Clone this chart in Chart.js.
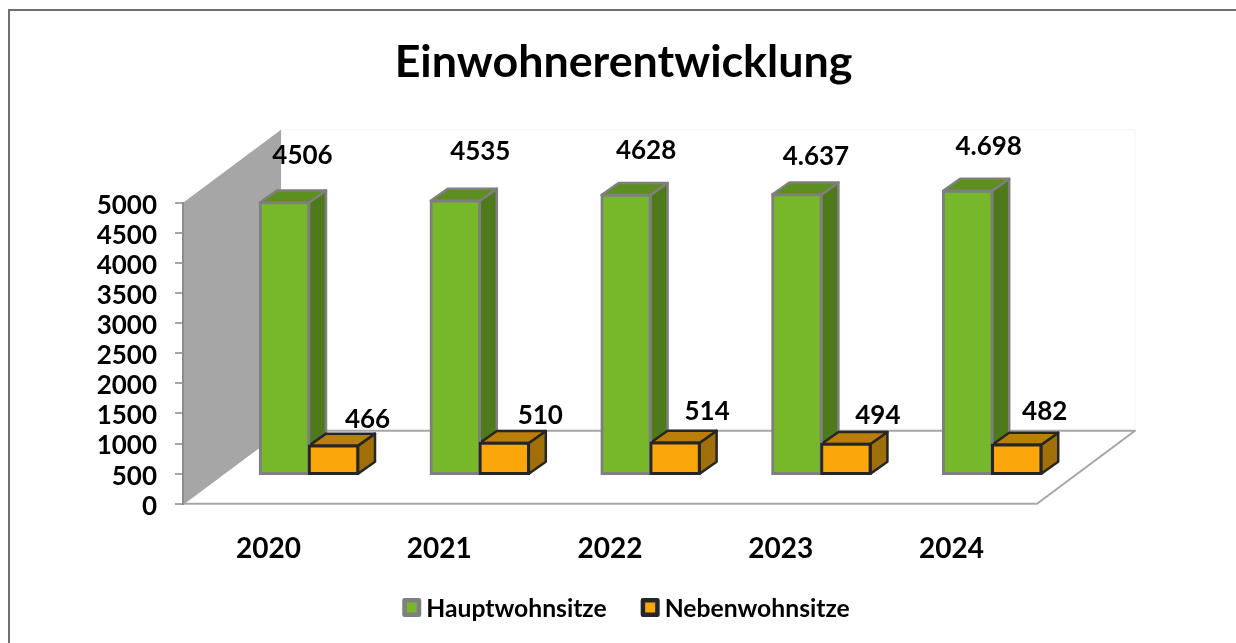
<!DOCTYPE html>
<html lang="de">
<head>
<meta charset="utf-8">
<title>Einwohnerentwicklung</title>
<script src="https://cdn.jsdelivr.net/npm/chart.js@4"></script>
<style>
    html, body { margin: 0; padding: 0; background: #fff; }
    canvas { display: block; }
</style>
</head>
<body>
<canvas id="chart" width="1236" height="643"></canvas>
<script>
    const years = ['2020', '2021', '2022', '2023', '2024'];
    const hauptwohnsitze = [4506, 4535, 4628, 4637, 4698];
    const nebenwohnsitze = [466, 510, 514, 494, 482];
    const hauptLabels = ['4506', '4535', '4628', '4.637', '4.698'];
    const nebenLabels = ['466', '510', '514', '494', '482'];
    const yTicksMax = 5000;

    const FONT = 'Lato, Carlito, Calibri, sans-serif';

    // Offset of the bars on the floor and size of the 3D look
    const BAR_SHIFT = 40.6;
    const BAR_DEPTH = { x: 17, y: 12 };
    const WALL_DEPTH = { x: 98, y: 73 };
    const LEGEND_SHIFT = 2.5;

    // Colours of the front, side and top faces, per dataset
    const faces = [
        { front: '#76b82a', side: '#4e7a1c', top: '#5c8f20', line: '#7f7f7f' },
        { front: '#fba70c', side: '#a06f08', top: '#bb7f09', line: '#262626' }
    ];

    // Labels were placed by hand in the original, so each has its own nudge
    const labelNudge = [
        [[18, -47], [25, -49], [20, -44], [19, -38], [21, -44]],
        [[34, -26], [36, -27], [32, -31], [32, -28], [28, -33]]
    ];

    function poly(ctx, points, fill, stroke, width) {
        ctx.beginPath();
        points.forEach((p, i) => i ? ctx.lineTo(p[0], p[1]) : ctx.moveTo(p[0], p[1]));
        ctx.closePath();
        if (fill) {
            ctx.fillStyle = fill;
            ctx.fill();
        }
        if (stroke) {
            ctx.strokeStyle = stroke;
            ctx.lineWidth = width;
            ctx.lineJoin = 'round';
            ctx.stroke();
        }
    }

    function drawFaces(ctx, meta, f) {
        meta.data.forEach(bar => {
            const l = bar.x - bar.width / 2;
            const r = bar.x + bar.width / 2;
            const t = bar.y;
            const b = bar.base;
            const dx = BAR_DEPTH.x;
            const dy = BAR_DEPTH.y;
            poly(ctx, [[r, t], [r + dx, t - dy], [r + dx, b - dy], [r, b]], f.side, f.line, 2.5);
            poly(ctx, [[l, t], [l + dx, t - dy], [r + dx, t - dy], [r, t]], f.top, f.line, 2.5);
        });
    }

    // Outer frame, grey wall and floor
    const roomPlugin = {
        id: 'room',
        beforeDraw(chart) {
            const { ctx } = chart;
            ctx.save();
            ctx.strokeStyle = '#707070';
            ctx.lineWidth = 2;
            ctx.strokeRect(9, 10, 1300, 1300);
            ctx.restore();
            // Lato sits higher than the original font, push the y labels down
            chart.scales.y.getLabelItems().forEach(item => {
                item.options.translation[1] += 2.5;
            });
        },
        beforeDatasetsDraw(chart) {
            const { ctx, chartArea: a } = chart;
            const bx = a.left + WALL_DEPTH.x;
            const by = a.bottom - WALL_DEPTH.y;
            const tx = a.top - WALL_DEPTH.y;
            const fx = a.right + WALL_DEPTH.x;
            ctx.save();
            // back wall, barely visible
            poly(ctx, [[bx, tx], [fx, tx], [fx, by], [bx, by]], '#ffffff', '#f4f4f4', 1);
            // floor
            poly(ctx, [[a.left, a.bottom], [bx, by], [fx, by], [a.right, a.bottom]], '#ffffff', '#a6a6a6', 2);
            // left wall
            poly(ctx, [[a.left, a.top], [bx, tx], [bx, by], [a.left, a.bottom]], '#a6a6a6', null);
            ctx.restore();
        }
    };

    // Side and top faces go under the library's own front faces.
    // The first dataset is drawn last, so its faces are put down before everything else.
    const depthPlugin = {
        id: 'depth',
        beforeDatasetsDraw(chart) {
            const { ctx } = chart;
            ctx.save();
            ctx.translate(BAR_SHIFT, 0);
            drawFaces(ctx, chart.getDatasetMeta(0), faces[0]);
            ctx.restore();
        },
        beforeDatasetDraw(chart, args) {
            const { ctx } = chart;
            ctx.save();
            ctx.translate(BAR_SHIFT, 0);
            if (args.index > 0) {
                drawFaces(ctx, args.meta, faces[args.index]);
            }
        },
        afterDatasetDraw(chart, args) {
            const { ctx } = chart;
            // orange border stays on top of the green one where they touch
            if (args.index === 0) {
                chart.getDatasetMeta(1).data.forEach(bar => bar.draw(ctx));
            }
            ctx.restore();
        }
    };

    const valueLabelPlugin = {
        id: 'valueLabels',
        afterDatasetsDraw(chart) {
            const { ctx } = chart;
            const texts = [hauptLabels, nebenLabels];
            ctx.save();
            ctx.font = 'bold 26px ' + FONT;
            ctx.fillStyle = '#000';
            ctx.textAlign = 'center';
            ctx.textBaseline = 'middle';
            texts.forEach((list, ds) => {
                chart.getDatasetMeta(ds).data.forEach((bar, i) => {
                    const n = labelNudge[ds][i];
                    ctx.fillText(list[i], bar.x + BAR_SHIFT + n[0], bar.y + n[1]);
                });
            });
            ctx.restore();
        }
    };

    // The native legend box sits too far from its text, so the library only leaves room for it
    const legendBoxPlugin = {
        id: 'legendBoxes',
        afterLayout(chart) {
            const legend = chart.legend;
            legend.left += LEGEND_SHIFT;
            legend.right += LEGEND_SHIFT;
            legend.legendHitBoxes.forEach(hit => {
                hit.left += LEGEND_SHIFT;
            });
        },
        afterDraw(chart) {
            const { ctx, legend } = chart;
            ctx.save();
            legend.legendHitBoxes.forEach((hit, i) => {
                const l = hit.left + 2.25;
                const t = hit.top + hit.height / 2 - 8.5;
                poly(ctx, [[l, t], [l + 14.5, t], [l + 14.5, t + 14.5], [l, t + 14.5]], faces[i].front, faces[i].line, 4.5);
            });
            ctx.restore();
        }
    };

    new Chart(document.getElementById('chart'), {
        type: 'bar',
        data: {
            labels: years,
            datasets: [
                {
                    label: 'Hauptwohnsitze',
                    data: hauptwohnsitze,
                    yAxisID: 'yBars',
                    backgroundColor: faces[0].front,
                    borderColor: faces[0].line,
                    borderWidth: 3,
                    borderSkipped: false,
                    inflateAmount: 1.2,
                    clip: false
                },
                {
                    label: 'Nebenwohnsitze',
                    data: nebenwohnsitze,
                    yAxisID: 'yBars',
                    backgroundColor: faces[1].front,
                    borderColor: faces[1].line,
                    borderWidth: 3,
                    borderSkipped: false,
                    inflateAmount: 1.2,
                    clip: false
                }
            ]
        },
        options: {
            responsive: false,
            animation: false,
            layout: { padding: { left: 11, right: 0, top: 0, bottom: 12 } },
            datasets: { bar: { barPercentage: 1, categoryPercentage: 0.574 } },
            plugins: {
                title: {
                    display: true,
                    text: 'Einwohnerentwicklung',
                    color: '#000',
                    font: { family: FONT, size: 44.8, weight: 'bold' },
                    padding: { top: 36, bottom: 113 }
                },
                legend: {
                    position: 'bottom',
                    maxHeight: 70,
                    labels: {
                        color: '#000',
                        font: { family: FONT, size: 24.7, weight: 'bold' },
                        boxWidth: 11.65,
                        boxHeight: 16,
                        padding: 34,
                        generateLabels(chart) {
                            return chart.data.datasets.map((ds, i) => ({
                                text: ds.label,
                                fillStyle: 'transparent',
                                strokeStyle: 'transparent',
                                lineWidth: 0,
                                fontColor: '#000',
                                datasetIndex: i
                            }));
                        }
                    }
                },
                tooltip: { enabled: false }
            },
            scales: {
                x: {
                    grid: { display: false },
                    border: { display: false },
                    ticks: {
                        color: '#000',
                        font: { family: FONT, size: 28, weight: 'bold' },
                        padding: 20,
                        maxRotation: 0
                    },
                    afterFit(scale) { scale.height = 58.5; }
                },
                y: {
                    min: 0,
                    max: yTicksMax,
                    grid: { drawOnChartArea: false, color: '#a6a6a6', lineWidth: 2, tickLength: 8 },
                    border: { color: '#8c8c8c', width: 2, z: 1 },
                    ticks: {
                        stepSize: 500,
                        autoSkip: false,
                        color: '#000',
                        font: { family: FONT, size: 26, weight: 'bold' },
                        padding: 18,
                        callback: value => String(value)
                    },
                    afterFit(scale) { scale.width = 172; }
                },
                // Same scale as y, but starting one step up: the bars stand back from the front edge
                yBars: {
                    position: 'right',
                    min: -500,
                    max: 4500,
                    grid: { display: false },
                    border: { display: false },
                    ticks: { display: false },
                    afterFit(scale) { scale.width = 199; }
                }
            }
        },
        plugins: [roomPlugin, depthPlugin, valueLabelPlugin, legendBoxPlugin]
    });
</script>
</body>
</html>
